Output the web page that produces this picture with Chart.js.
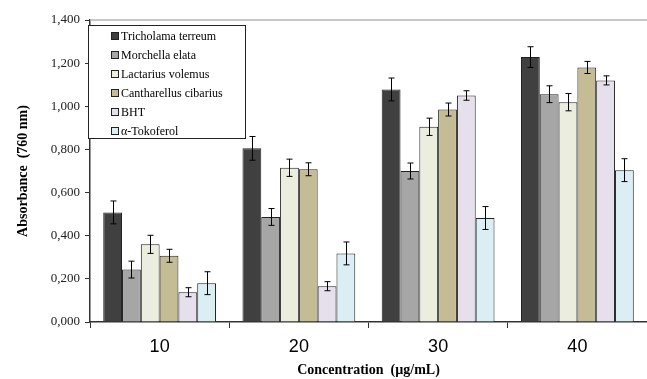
<!DOCTYPE html>
<html>
<head>
<meta charset="utf-8">
<style>
  html, body { margin: 0; padding: 0; background: #fff; }
  #wrap { width: 647px; height: 379px; }
</style>
<script src="https://cdn.jsdelivr.net/npm/chart.js@4/dist/chart.umd.min.js"></script>
</head>
<body>
<div id="wrap"><canvas id="absChart" width="647" height="379"></canvas></div>
<script>
// categories
var concentrations = ['10', '20', '30', '40'];

// series values (absorbance at 760 nm)
var tricholoma   = [0.508, 0.805, 1.078, 1.228];
var morchella    = [0.243, 0.487, 0.700, 1.056];
var lactarius    = [0.360, 0.715, 0.905, 1.019];
var cantharellus = [0.307, 0.708, 0.985, 1.180];
var bht          = [0.138, 0.166, 1.050, 1.120];
var tokoferol    = [0.180, 0.318, 0.482, 0.704];

// standard deviations
var tricholomaErr   = [0.053, 0.055, 0.053, 0.048];
var morchellaErr    = [0.039, 0.039, 0.037, 0.039];
var lactariusErr    = [0.042, 0.040, 0.040, 0.040];
var cantharellusErr = [0.030, 0.030, 0.030, 0.028];
var bhtErr          = [0.021, 0.021, 0.022, 0.021];
var tokoferolErr    = [0.053, 0.053, 0.053, 0.053];

// y tick labels
var yTicks = [0, 0.2, 0.4, 0.6, 0.8, 1.0, 1.2, 1.4];

var serif = '"Liberation Serif", "Times New Roman", serif';
var sans = '"Liberation Sans", Arial, sans-serif';

function series(label, data, err, color) {
    return {
        label: label,
        data: data,
        errors: err,
        backgroundColor: color,
        borderColor: '#222222',
        borderWidth: 1
    };
}

// error bars + legend box + top frame line
var extras = {
    id: 'extras',
    afterDatasetsDraw: function (chart) {
        var ctx = chart.ctx;
        var y = chart.scales.y;
        ctx.save();
        ctx.strokeStyle = '#000000';
        ctx.lineWidth = 1;
        chart.data.datasets.forEach(function (ds, i) {
            var meta = chart.getDatasetMeta(i);
            meta.data.forEach(function (bar, j) {
                var v = ds.data[j], e = ds.errors[j];
                var x = Math.round(bar.x) + 0.5;
                var top = y.getPixelForValue(v + e);
                var bot = y.getPixelForValue(v - e);
                ctx.beginPath();
                ctx.moveTo(x, top); ctx.lineTo(x, bot);
                ctx.moveTo(x - 3, top); ctx.lineTo(x + 3, top);
                ctx.moveTo(x - 3, bot); ctx.lineTo(x + 3, bot);
                ctx.stroke();
            });
        });
        ctx.restore();
    },
    afterDraw: function (chart) {
        var ctx = chart.ctx;
        var area = chart.chartArea;
        ctx.save();
        // top frame line
        ctx.strokeStyle = '#b5b5b5';
        ctx.lineWidth = 1.5;
        ctx.beginPath();
        ctx.moveTo(area.left, area.top);
        ctx.lineTo(chart.width, area.top);
        ctx.stroke();

        // legend
        var bx = 88.5, by = 25.5, bw = 157, bh = 113;
        ctx.fillStyle = '#ffffff';
        ctx.fillRect(bx, by, bw, bh);
        ctx.strokeStyle = '#222222';
        ctx.lineWidth = 1;
        ctx.strokeRect(bx, by, bw, bh);
        ctx.font = '12px ' + serif;
        ctx.textBaseline = 'middle';
        chart.data.datasets.forEach(function (ds, i) {
            var cy = 36 + i * 19;
            ctx.fillStyle = ds.backgroundColor;
            ctx.fillRect(111, cy - 4, 8, 8);
            ctx.strokeStyle = '#222222';
            ctx.strokeRect(111.5, cy - 3.5, 7, 7);
            ctx.fillStyle = '#000000';
            ctx.fillText(ds.label, 121, cy + 1);
        });
        ctx.restore();
    }
};

new Chart(document.getElementById('absChart'), {
    type: 'bar',
    data: {
        labels: concentrations,
        datasets: [
            series('Tricholama terreum', tricholoma, tricholomaErr, '#404040'),
            series('Morchella elata', morchella, morchellaErr, '#a6a6a6'),
            series('Lactarius volemus', lactarius, lactariusErr, '#ebeedf'),
            series('Cantharellus cibarius', cantharellus, cantharellusErr, '#c4bc95'),
            series('BHT', bht, bhtErr, '#e6e0ec'),
            series('\u03b1-Tokoferol', tokoferol, tokoferolErr, '#daeef3')
        ]
    },
    options: {
        responsive: false,
        animation: false,
        devicePixelRatio: 1,
        layout: { padding: { top: 20, right: 0, left: 0, bottom: 0 } },
        datasets: { bar: { categoryPercentage: 0.81, barPercentage: 1.0 } },
        plugins: {
            legend: { display: false },
            tooltip: { enabled: false }
        },
        scales: {
            x: {
                grid: { offset: true, drawOnChartArea: false, tickLength: 6, color: '#333333' },
                border: { color: '#333333', width: 1.5 },
                ticks: { color: '#000000', font: { family: sans, size: 18 }, padding: 8 },
                title: {
                    display: true,
                    text: 'Concentration  (\u00b5g/mL)',
                    color: '#000000',
                    font: { family: serif, size: 14, weight: 'bold' },
                    padding: { top: 0, bottom: 0 }
                },
                afterFit: function (scale) { scale.height = 57; }
            },
            y: {
                min: 0,
                max: 1.4,
                afterBuildTicks: function (scale) {
                    scale.ticks = yTicks.map(function (v) { return { value: v }; });
                },
                grid: { drawOnChartArea: false, tickLength: 5, color: '#333333' },
                border: { color: '#333333', width: 1.5 },
                ticks: {
                    color: '#222222',
                    font: { family: serif, size: 13 },
                    padding: 5,
                    callback: function (v) { return v.toFixed(3).replace('.', ','); }
                },
                title: {
                    display: true,
                    text: 'Absorbance  (760 nm)',
                    color: '#000000',
                    font: { family: serif, size: 14, weight: 'bold' },
                    padding: { top: 15, bottom: 0 }
                },
                afterFit: function (scale) { scale.width = 90; }
            }
        }
    },
    plugins: [extras]
});
</script>
</body>
</html>
